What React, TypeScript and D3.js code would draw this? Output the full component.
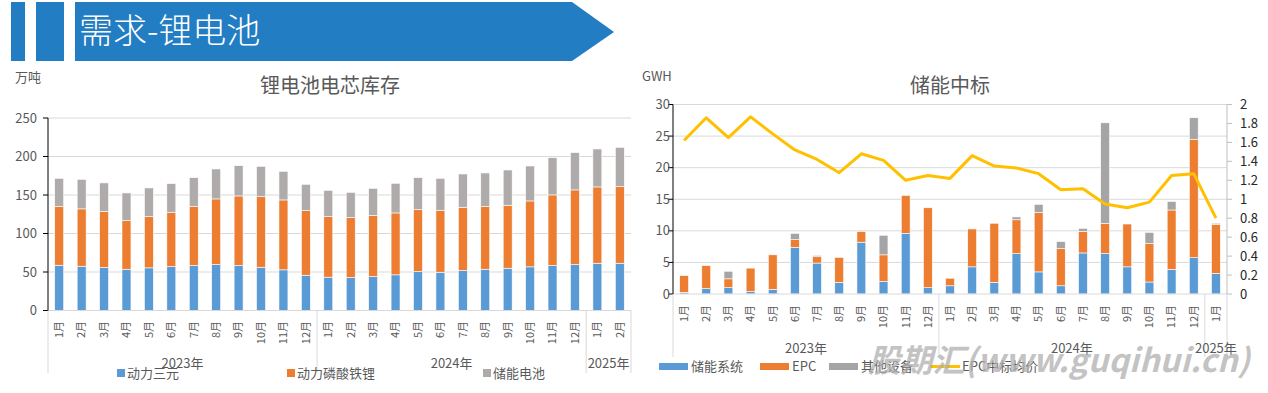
import React from "react";
import * as d3 from "d3";

const FONT = '"Noto Sans CJK SC", "Noto Sans", sans-serif';

// 锂电池电芯库存 (万吨)
const invMonths = [
  "1月", "2月", "3月", "4月", "5月", "6月", "7月", "8月", "9月", "10月", "11月", "12月",
  "1月", "2月", "3月", "4月", "5月", "6月", "7月", "8月", "9月", "10月", "11月", "12月",
  "1月", "2月",
];
const invYears = [
  { label: "2023年", count: 12 },
  { label: "2024年", count: 12 },
  { label: "2025年", count: 2 },
];
const invNcm = [
  58.8, 57.5, 56.0, 53.6, 55.4, 57.0, 58.4, 59.7, 58.4, 56.2, 52.8, 45.8,
  43.3, 42.8, 44.1, 46.3, 50.6, 49.7, 51.9, 53.6, 54.9, 56.7, 58.4, 59.7,
  61.4, 61.4,
];
const invLfp = [
  76.2, 74.5, 72.5, 63.2, 66.6, 70.6, 76.6, 85.2, 90.4, 91.7, 90.8, 84.0,
  78.7, 77.9, 79.2, 80.4, 80.4, 80.1, 82.2, 81.4, 81.8, 85.6, 91.7, 96.9,
  99.1, 99.5,
];
const invEss = [
  36.7, 38.4, 37.2, 35.9, 37.2, 37.2, 37.6, 38.9, 39.3, 39.4, 37.2, 34.1,
  34.1, 32.8, 35.4, 38.5, 41.6, 41.9, 43.2, 43.6, 45.8, 45.4, 48.4, 48.4,
  49.3, 51.0,
];
const invSeries = ["动力三元", "动力磷酸铁锂", "储能电池"];
const invTicks = [0, 50, 100, 150, 200, 250];

// 储能中标 (GWH)
const bidMonths = [
  "1月", "2月", "3月", "4月", "5月", "6月", "7月", "8月", "9月", "10月", "11月", "12月",
  "1月", "2月", "3月", "4月", "5月", "6月", "7月", "8月", "9月", "10月", "11月", "12月",
  "1月",
];
const bidYears = [
  { label: "2023年", count: 12 },
  { label: "2024年", count: 12 },
  { label: "2025年", count: 1 },
];
const bidSystem = [
  0.26, 0.84, 1.0, 0.37, 0.74, 7.4, 4.9, 1.85, 8.2, 2.0, 9.6, 1.0,
  1.3, 4.3, 1.85, 6.4, 3.5, 1.3, 6.5, 6.4, 4.3, 1.9, 3.9, 5.75,
  3.27,
];
const bidEpc = [
  2.64, 3.66, 1.4, 3.73, 5.46, 1.2, 1.0, 3.95, 1.7, 4.2, 6.0, 12.65,
  1.2, 6.0, 9.35, 5.35, 9.4, 5.9, 3.4, 4.8, 6.8, 6.1, 9.4, 18.75,
  7.73,
];
const bidOther = [
  0, 0, 1.2, 0, 0, 1.0, 0.2, 0, 0, 3.1, 0, 0,
  0, 0, 0, 0.45, 1.3, 1.1, 0.5, 15.9, 0.1, 1.75, 1.35, 3.4,
  0.2,
];
const bidPrice = [
  1.62, 1.86, 1.65, 1.87, 1.69, 1.52, 1.42, 1.28, 1.48, 1.41, 1.2, 1.25,
  1.22, 1.46, 1.35, 1.33, 1.27, 1.1, 1.11, 0.95, 0.91, 0.97, 1.25, 1.27,
  0.8,
];
const bidSeries = ["储能系统", "EPC", "其他设备", "EPC中标均价"];
const bidTicksL = [0, 5, 10, 15, 20, 25, 30];
const bidTicksR = [0, 0.2, 0.4, 0.6, 0.8, 1, 1.2, 1.4, 1.6, 1.8, 2];

const BLUE = "#5B9BD5";
const ORANGE = "#ED7D31";
const GRID = "#D9D9D9";

type Group = { label: string; count: number };

function CategoryAxis({
  x,
  months,
  years,
  y0,
  labelTop,
  sepBottom,
  yearY,
}: {
  x: d3.ScaleBand<string>;
  months: string[];
  years: Group[];
  y0: number;
  labelTop: number;
  sepBottom: number;
  yearY: number;
}) {
  const [r0, r1] = x.range();
  const step = x.step();
  let start = 0;
  const bounds = years.map((g) => {
    const b = { ...g, a: r0 + start * step, b: r0 + (start + g.count) * step };
    start += g.count;
    return b;
  });
  return (
    <g>
      <line x1={r0} x2={r1} y1={y0} y2={y0} stroke={GRID} />
      {[r0, ...bounds.map((b) => b.b)].map((v, i) => (
        <line key={i} x1={v} x2={v} y1={y0} y2={sepBottom} stroke={GRID} />
      ))}
      {months.map((m, i) => {
        const cx = (x(String(i)) ?? 0) + x.bandwidth() / 2;
        return (
          <text
            key={i}
            transform={`translate(${cx},${labelTop}) rotate(-90)`}
            textAnchor="end"
            dy="0.35em"
            fontSize={11}
            fill="#595959"
          >
            {m}
          </text>
        );
      })}
      {bounds.map((b) => (
        <text key={b.label} x={(b.a + b.b) / 2} y={yearY} textAnchor="middle" dy="0.35em" fontSize={13} fill="#595959">
          {b.label}
        </text>
      ))}
    </g>
  );
}

function InventoryChart() {
  const idx = invMonths.map((_, i) => String(i));
  const x = d3.scaleBand<string>().domain(idx).range([48, 631]).paddingInner(0.6).paddingOuter(0.3);
  const y = d3.scaleLinear().domain([0, 250]).range([310.5, 118]);
  const rows = invMonths.map((_, i) => ({ a: invNcm[i], b: invLfp[i], c: invEss[i] }));
  const stack = d3.stack<{ a: number; b: number; c: number }>().keys(["a", "b", "c"])(rows);
  const colors = [BLUE, ORANGE, "#AFABAB"];
  const legendX = [117, 287, 483];
  return (
    <g>
      <text x={15} y={77} dy="0.35em" fontSize={13} fill="#595959">万吨</text>
      <text x={330} y={86} dy="0.35em" textAnchor="middle" fontSize={20} fill="#595959">锂电池电芯库存</text>
      {invTicks.map((t) => (
        <g key={t}>
          {t > 0 && <line x1={48} x2={631} y1={y(t)} y2={y(t)} stroke={GRID} />}
          <line x1={43} x2={48} y1={y(t)} y2={y(t)} stroke="#000" />
          <text x={37} y={y(t)} dy="0.35em" textAnchor="end" fontSize={13} fill="#595959">{t}</text>
        </g>
      ))}
      {stack.map((s, k) =>
        s.map((d, i) => (
          <rect
            key={`${k}-${i}`}
            x={x(String(i))}
            width={x.bandwidth()}
            y={y(d[1])}
            height={y(d[0]) - y(d[1])}
            fill={colors[k]}
            stroke="#fff"
            strokeWidth={0.6}
          />
        ))
      )}
      <CategoryAxis x={x} months={invMonths} years={invYears} y0={310.5} labelTop={321} sepBottom={373} yearY={363} />
      <line x1={48} x2={48} y1={118} y2={310.5} stroke="#000" />
      {invSeries.map((s, i) => (
        <g key={s}>
          <rect x={legendX[i]} y={369} width={8} height={8} fill={colors[i]} />
          <text x={legendX[i] + 10} y={373} dy="0.35em" fontSize={13} fill="#595959">{s}</text>
        </g>
      ))}
    </g>
  );
}

function BidChart() {
  const idx = bidMonths.map((_, i) => String(i));
  const x = d3.scaleBand<string>().domain(idx).range([673, 1227]).paddingInner(0.6).paddingOuter(0.3);
  const y = d3.scaleLinear().domain([0, 30]).range([294, 104.5]);
  const y2 = d3.scaleLinear().domain([0, 2]).range([294, 104.5]);
  const rows = bidMonths.map((_, i) => ({ a: bidSystem[i], b: bidEpc[i], c: bidOther[i] }));
  const stack = d3.stack<{ a: number; b: number; c: number }>().keys(["a", "b", "c"])(rows);
  const colors = [BLUE, ORANGE, "#A5A5A5"];
  const line = d3
    .line<number>()
    .x((_d, i) => (x(String(i)) ?? 0) + x.bandwidth() / 2)
    .y((d) => y2(d));
  const legendX = [659, 760, 829, 930];
  return (
    <g>
      <text x={642} y={76} dy="0.35em" fontSize={13} fill="#595959">GWH</text>
      <text x={950} y={86} dy="0.35em" textAnchor="middle" fontSize={20} fill="#595959">储能中标</text>
      {bidTicksL.map((t) => (
        <g key={t}>
          {t > 0 && <line x1={673} x2={1227} y1={y(t)} y2={y(t)} stroke={GRID} />}
          <line x1={668} x2={673} y1={y(t)} y2={y(t)} stroke="#000" />
          <text x={670} y={y(t)} dy="0.35em" textAnchor="end" fontSize={13} fill="#595959">{t}</text>
        </g>
      ))}
      {bidTicksR.map((t) => (
        <g key={t}>
          <line x1={1227} x2={1232} y1={y2(t)} y2={y2(t)} stroke="#BFBFBF" />
          <text x={1240} y={y2(t)} dy="0.35em" fontSize={13} fill="#262626">{t}</text>
        </g>
      ))}
      {stack.map((s, k) =>
        s.map((d, i) =>
          d[1] - d[0] > 0 ? (
            <rect
              key={`${k}-${i}`}
              x={x(String(i))}
              width={x.bandwidth()}
              y={y(d[1])}
              height={y(d[0]) - y(d[1])}
              fill={colors[k]}
              stroke="#fff"
              strokeWidth={0.6}
            />
          ) : null
        )
      )}
      <CategoryAxis x={x} months={bidMonths} years={bidYears} y0={294} labelTop={305} sepBottom={357} yearY={348} />
      <line x1={673} x2={673} y1={104.5} y2={294} stroke="#000" />
      <line x1={1227} x2={1227} y1={104.5} y2={294} stroke="#BFBFBF" />
      <path d={line(bidPrice) ?? ""} fill="none" stroke="#FFC000" strokeWidth={3} strokeLinejoin="round" />
      {bidSeries.map((s, i) => (
        <g key={s}>
          {i < 3 ? (
            <rect x={legendX[i]} y={363} width={29} height={7} fill={colors[i]} />
          ) : (
            <line x1={legendX[i]} x2={legendX[i] + 30} y1={366.5} y2={366.5} stroke="#FFC000" strokeWidth={3} />
          )}
          <text x={legendX[i] + 32} y={366} dy="0.35em" fontSize={13} fill="#595959">{s}</text>
        </g>
      ))}
    </g>
  );
}

export default function App() {
  return (
    <svg
      width={1268}
      height={393}
      style={{ position: "fixed", left: 0, top: 0, background: "#fff", fontFamily: FONT }}
    >
      <rect x={11} y={2} width={14} height={59} fill="#227DC3" />
      <rect x={36} y={2} width={28} height={59} fill="#227DC3" />
      <polygon points="75,2 572,2 614,32 572,61 75,61" fill="#227DC3" />
      <text x={79} y={30} dy="0.38em" fontSize={34} fontWeight={300} fill="#fff">需求-锂电池</text>
      <InventoryChart />
      <BidChart />
      <text
        x={868}
        y={372}
        fontSize={32}
        fontWeight="bold"
        fontStyle="italic"
        fill="#B0B0B0"
        fillOpacity={0.75}
        textLength={382}
        lengthAdjust="spacingAndGlyphs"
      >
        股期汇(www.guqihui.cn)
      </text>
    </svg>
  );
}
